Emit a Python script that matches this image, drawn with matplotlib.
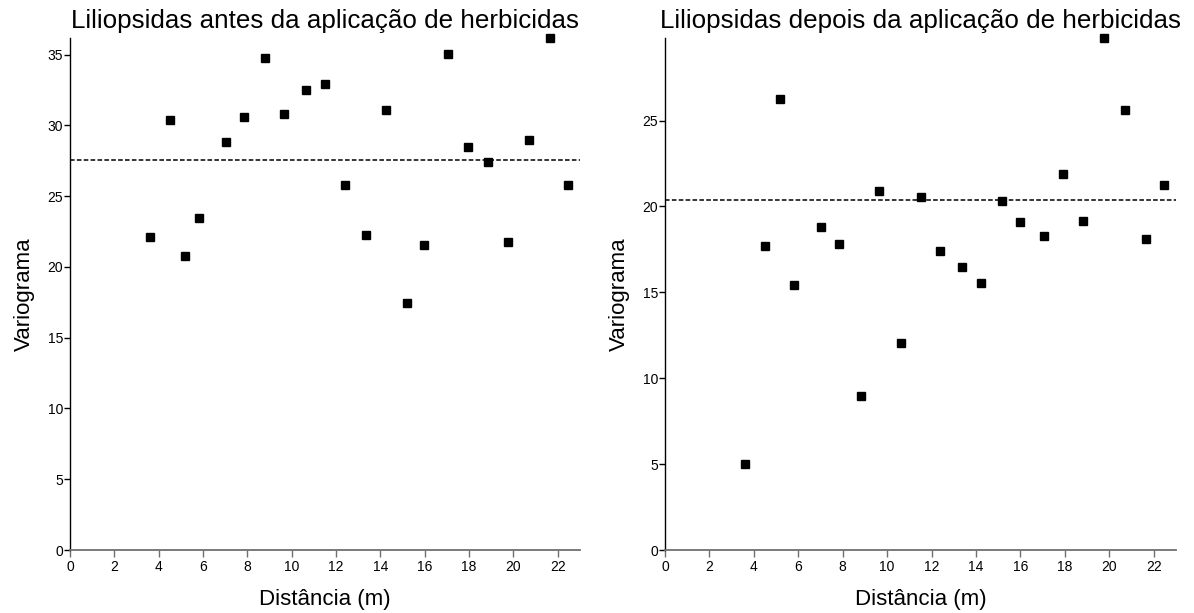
import matplotlib
matplotlib.use("Agg")
import matplotlib.pyplot as plt

plt.rcParams['font.family'] = ['Liberation Sans', 'DejaVu Sans']

# Lag distances (m), shared by both variograms
distancia = [3.61, 4.50, 5.19, 5.82, 7.04, 7.85, 8.80, 9.63, 10.63, 11.51, 12.39,
             13.37, 14.24, 15.19, 15.98, 17.05, 17.93, 18.83, 19.74, 20.69, 21.66, 22.47]

# Semivariance before herbicide application
vario_antes = [22.10, 30.38, 20.78, 23.49, 28.84, 30.59, 34.74, 30.80, 32.48, 32.95, 25.80,
               22.26, 31.11, 17.44, 21.53, 35.05, 28.49, 27.41, 21.77, 28.94, 36.18, 25.78]
patamar_antes = 27.55

# Semivariance after herbicide application
vario_depois = [5.00, 17.72, 26.25, 15.45, 18.79, 17.82, 8.95, 20.89, 12.06, 20.54, 17.43,
                16.50, 15.54, 20.31, 19.12, 18.29, 21.87, 19.18, 29.81, 25.62, 18.09, 21.26]
patamar_depois = 20.37

titulos = ["Liliopsidas antes da aplicação de herbicidas",
           "Liliopsidas depois da aplicação de herbicidas"]
xticks = list(range(0, 23, 2))

fig = plt.figure(figsize=(11.94, 6.13), dpi=100)
ax1 = fig.add_axes([70 / 1194, 63 / 613, 510 / 1194, 512 / 613])
ax2 = fig.add_axes([665 / 1194, 63 / 613, 511 / 1194, 512 / 613])

paineis = [
    (ax1, vario_antes, patamar_antes, titulos[0], range(0, 36, 5)),
    (ax2, vario_depois, patamar_depois, titulos[1], range(0, 26, 5)),
]

for ax, vals, patamar, titulo, yticks in paineis:
    ax.plot(distancia, vals, linestyle='none', marker='s', markersize=6.3,
            color='black', clip_on=False, zorder=3)
    ax.axhline(patamar, color='black', linestyle=(0, (3, 1.5)), linewidth=1.1)
    ax.set_xlim(0, 23)
    ax.set_ylim(0, max(vals))
    ax.set_xticks(xticks)
    ax.set_yticks(list(yticks))
    for s in ('top', 'right'):
        ax.spines[s].set_visible(False)
    ax.spines['left'].set_color('black')
    ax.spines['left'].set_linewidth(1.0)
    ax.spines['bottom'].set_color('#707070')
    ax.spines['bottom'].set_linewidth(1.3)
    ax.tick_params(axis='x', direction='out', length=5, width=1, color='#707070',
                   labelsize=10, pad=2)
    ax.tick_params(axis='y', direction='out', length=4, width=1, color='black',
                   labelsize=10, pad=1)
    ax.set_title(titulo, fontsize=18.7, pad=7)
    ax.set_xlabel("Distância (m)", fontsize=16, labelpad=11)
    ax.set_ylabel("Variograma", fontsize=16, labelpad=9)

fig.savefig("out.png", dpi=100)
